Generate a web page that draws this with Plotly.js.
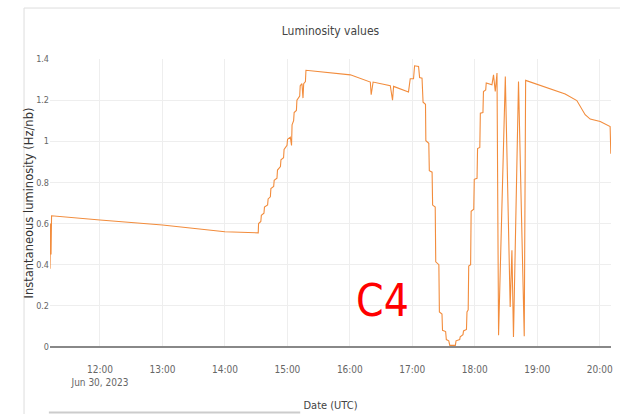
<!DOCTYPE html>
<html>
<head>
<meta charset="utf-8">
<script src="https://cdn.plot.ly/plotly-3.0.1.min.js"></script>
<style>html,body{margin:0;padding:0;background:#fff;}#chart{width:641px;height:414px;}</style>
</head>
<body>
<div id="chart"></div>
<script>
// Time stamps (UTC, 30 Jun 2023) and instantaneous luminosity (Hz/nb)
const times = [
  "11:12:00","11:12:36","11:13:00","11:13:30","12:00:00","13:00:00","14:00:00","14:15:00","14:32:00",
  "14:32:20","14:34:30","14:35:00","14:37:30","14:38:00","14:41:00","14:41:30","14:43:40","14:44:10",
  "14:46:50","14:47:20","14:50:00","14:50:30","14:53:20","14:53:50","14:56:20","14:56:50","14:59:40",
  "15:00:10","15:02:50","15:04:00","15:04:30","15:06:00","15:06:30","15:08:40","15:09:10","15:11:50",
  "15:12:20","15:14:00","15:15:00","15:15:40","15:17:20","15:17:50",
  "16:00:30","16:19:40","16:20:30","16:22:20","16:38:50","16:41:00","16:42:00","16:56:20",
  "16:58:00","17:01:10","17:02:10","17:06:00","17:07:00","17:09:20",
  "17:10:20","17:12:40","17:13:00","17:15:50","17:16:20","17:19:00","17:19:30","17:22:00","17:22:30",
  "17:25:30","17:26:00","17:28:30","17:29:00","17:32:00","17:32:40","17:35:00","17:36:00","17:41:20",
  "17:42:00","17:45:30","17:46:00","17:48:40","17:49:10","17:52:00","17:52:30","17:53:40","17:54:10",
  "17:56:00","17:56:30","17:59:00","17:59:30","18:02:10","18:02:40","18:04:50","18:05:20","18:07:50",
  "18:08:20","18:10:30","18:11:00","18:16:30",
  "18:18:00","18:19:40","18:21:20","18:22:50","18:29:20","18:34:00","18:35:40","18:37:10","18:42:00",
  "18:44:40","18:47:30","18:48:50","19:26:50","19:38:00","19:46:00","19:50:50","20:00:30","20:10:00",
  "20:10:40"
];
const lumi = [
  0.38,0.60,0.45,0.638,0.617,0.593,0.560,0.556,0.555,
  0.60,0.61,0.64,0.65,0.68,0.69,0.72,0.73,0.77,
  0.78,0.81,0.82,0.86,0.877,0.91,0.92,0.96,0.98,
  1.01,1.02,0.98,1.08,1.10,1.14,1.15,1.20,1.22,
  1.27,1.28,1.21,1.28,1.29,1.345,
  1.323,1.288,1.226,1.288,1.27,1.20,1.267,1.24,
  1.304,1.304,1.367,1.364,1.31,1.307,
  1.19,1.18,1.003,0.99,0.857,0.85,0.69,0.68,0.414,
  0.40,0.17,0.16,0.081,0.075,0.036,0.03,0.008,0.008,
  0.03,0.036,0.05,0.06,0.078,0.085,0.17,0.18,0.393,
  0.40,0.66,0.67,0.815,0.82,0.965,0.97,1.137,1.14,
  1.242,1.25,1.283,1.275,
  1.323,1.242,1.332,0.057,1.315,0.195,0.47,0.049,1.29,
  0.68,0.052,1.296,1.23,1.198,1.129,1.108,1.096,1.072,
  0.94
];
const day = "2023-06-30 ";
const xs = times.map(t => day + t);

const narrow = '"DejaVu Sans Condensed", "Liberation Sans Narrow", "Arial Narrow", sans-serif';

const trace = {
  x: xs, y: lumi, type: 'scatter', mode: 'lines',
  line: {color: '#f28c3c', width: 1.1},
  hoverinfo: 'skip'
};

const layout = {
  width: 641, height: 414,
  margin: {l: 50, r: 30, t: 59, b: 67},
  paper_bgcolor: '#ffffff', plot_bgcolor: '#ffffff',
  showlegend: false,
  title: {text: 'Luminosity values', x: 0.5, xref: 'paper', xanchor: 'center',
          y: 0.925, yref: 'container', yanchor: 'middle',
          font: {family: narrow, size: 12, color: '#444'}},
  xaxis: {
    type: 'date',
    range: [day + '11:12:00', day + '20:10:50'],
    tick0: day + '12:00:00', dtick: 3600000,
    tickfont: {family: narrow, size: 10, color: '#666'},
    ticklabelstandoff: 15,
    gridcolor: '#eeeeee', showline: false, zeroline: false,
    ticks: '', title: {text: 'Date (UTC)', font: {family: narrow, size: 11, color: '#444'}, standoff: 14}
  },
  yaxis: {
    range: [0, 1.4], dtick: 0.2,
    tickfont: {family: narrow, size: 9, color: '#666'},
    gridcolor: '#eeeeee', zeroline: true, zerolinecolor: '#888888', zerolinewidth: 2,
    showline: false, ticks: '',
    title: {text: 'Instantaneous luminosity (Hz/nb)', standoff: 0,
            font: {family: '"DejaVu Sans", sans-serif', size: 11.5, color: '#333'}}
  },
  annotations: [{
    text: 'C4', xref: 'paper', yref: 'paper', x: 0.592, y: 0.16,
    xanchor: 'center', yanchor: 'middle', showarrow: false,
    font: {family: narrow, size: 44, color: '#ff0000'}
  }],
  shapes: [
    {type: 'line', xref: 'paper', yref: 'paper', x0: -0.0463, x1: -0.0463, y0: -0.24, y1: 1.177,
     line: {color: '#dddddd', width: 1}},
    {type: 'line', xref: 'paper', yref: 'paper', x0: -0.0463, x1: 1.016, y0: 1.177, y1: 1.177,
     line: {color: '#dddddd', width: 1}},
    {type: 'line', xref: 'paper', yref: 'paper', x0: -0.002, x1: 0.446, y0: -0.227, y1: -0.227,
     line: {color: '#cccccc', width: 2}}
  ]
};

Plotly.newPlot('chart', [trace], layout, {displayModeBar: false, staticPlot: true});
</script>
</body>
</html>
